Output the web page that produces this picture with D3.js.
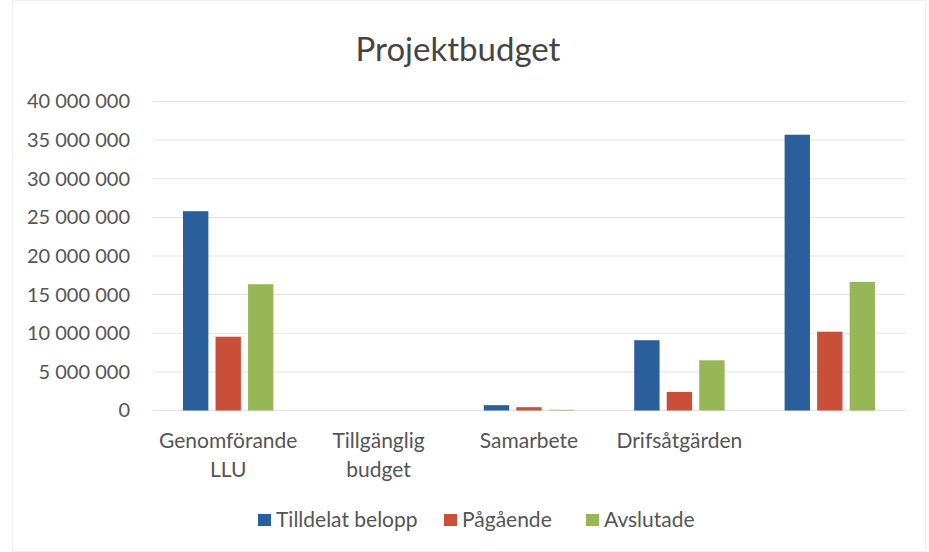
<!DOCTYPE html>
<html>
<head>
<meta charset="utf-8">
<script src="https://cdn.jsdelivr.net/npm/d3@7"></script>
<style>
  body { margin: 0; background: #fff; }
  svg { font-family: Lato, "Open Sans", sans-serif; }
</style>
</head>
<body>
<svg id="chart"></svg>
<script>
// data
var categories = ["Genomförande\nLLU", "Tillgänglig\nbudget", "Samarbete", "Drifsåtgärden", ""];
var seriesNames = ["Tilldelat belopp", "Pågående", "Avslutade"];
var tilldelat = [25800000, 0, 690000, 9100000, 35700000];
var pagaende = [9550000, 0, 430000, 2400000, 10200000];
var avslutade = [16350000, 0, 100000, 6500000, 16650000];
var yTicks = [0, 5000000, 10000000, 15000000, 20000000, 25000000, 30000000, 35000000, 40000000];
var colors = ["#2a5f9c", "#c94f38", "#97b655"];

var W = 929, H = 552;
var margin = { top: 101.5, right: 24, bottom: 141.5, left: 153 };
var width = W - margin.left - margin.right;
var height = H - margin.top - margin.bottom;

var svg = d3.select("#chart").attr("width", W).attr("height", H);

// faint frame
svg.append("rect")
  .attr("x", 12.5).attr("y", 0.5).attr("width", 913).attr("height", 551)
  .attr("fill", "none").attr("stroke", "#f0f0f0");

var g = svg.append("g").attr("transform", "translate(" + margin.left + "," + margin.top + ")");

var x = d3.scaleBand().domain(d3.range(categories.length)).range([0, width]);
var x1 = d3.scaleBand().domain(d3.range(seriesNames.length)).range([30, x.bandwidth() - 30]).paddingInner(0.22);
var y = d3.scaleLinear().domain([0, 40000000]).range([height, 0]);

// gridlines
g.selectAll(".grid")
  .data(yTicks)
  .enter().append("line")
  .attr("x1", 0).attr("x2", width)
  .attr("y1", function(d) { return y(d); })
  .attr("y2", function(d) { return y(d); })
  .attr("stroke", "#e3e3e3").attr("stroke-width", 1);

// y axis labels
var fmt = function(d) { return d3.format(",")(d).replace(/,/g, " "); };
var yAxis = g.append("g")
  .call(d3.axisLeft(y).tickValues(yTicks).tickFormat(fmt).tickSize(0).tickPadding(23));
yAxis.select(".domain").remove();
yAxis.selectAll("text")
  .attr("font-size", "20px")
  .attr("fill", "#555")
  .style("font-family", "Lato, sans-serif");

// bars
var data = [tilldelat, pagaende, avslutade];
var groups = g.selectAll(".cat")
  .data(categories)
  .enter().append("g")
  .attr("transform", function(d, i) { return "translate(" + x(i) + ",0)"; });

groups.selectAll("rect")
  .data(function(d, i) { return data.map(function(s) { return s[i]; }); })
  .enter().append("rect")
  .attr("x", function(d, j) { return x1(j); })
  .attr("y", function(d) { return y(d); })
  .attr("width", x1.bandwidth())
  .attr("height", function(d) { return height - y(d); })
  .attr("fill", function(d, j) { return colors[j]; });

// category labels
groups.each(function(d, i) {
  var lines = d.split("\n");
  var t = d3.select(this).append("text")
    .attr("x", x.bandwidth() / 2)
    .attr("y", height + 37)
    .attr("text-anchor", "middle")
    .attr("font-size", "21px")
    .attr("fill", "#555");
  lines.forEach(function(l, k) {
    t.append("tspan").attr("x", x.bandwidth() / 2).attr("dy", k === 0 ? 0 : 29).text(l);
  });
});

// title
svg.append("text")
  .attr("x", 458).attr("y", 61)
  .attr("text-anchor", "middle")
  .attr("font-size", "33px")
  .attr("fill", "#444")
  .text("Projektbudget");

// legend
var legendX = [258, 444, 586];
var legend = svg.selectAll(".legend")
  .data(seriesNames)
  .enter().append("g")
  .attr("transform", function(d, i) { return "translate(" + legendX[i] + ",514)"; });
legend.append("rect").attr("width", 13).attr("height", 12).attr("fill", function(d, i) { return colors[i]; });
legend.append("text")
  .attr("x", 18).attr("y", 13)
  .attr("font-size", "21px")
  .attr("fill", "#555")
  .text(function(d) { return d; });
</script>
</body>
</html>
